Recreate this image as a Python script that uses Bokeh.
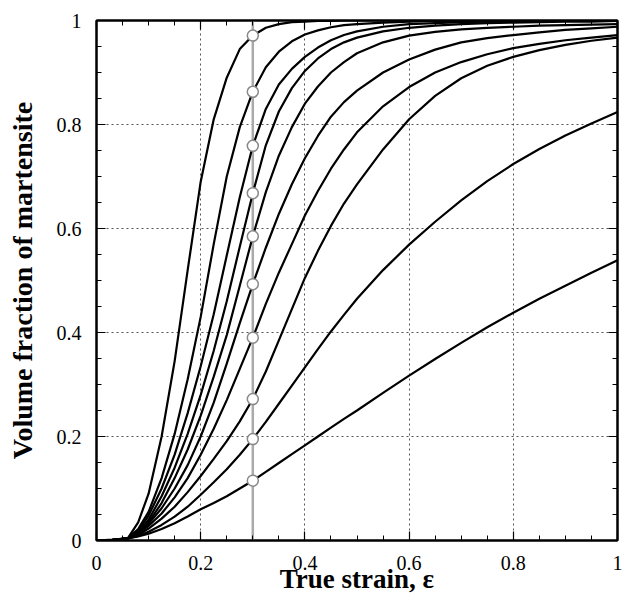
from bokeh.plotting import figure
from bokeh.models import LinearAxis, FixedTicker, Range1d, Span
from bokeh.embed import file_html
from bokeh.resources import INLINE

# strain values at which the curves were read
EPS = [0, 0.03, 0.06, 0.08, 0.1, 0.125, 0.15, 0.175, 0.2, 0.225, 0.25, 0.275, 0.3,
       0.325, 0.35, 0.375, 0.4, 0.425, 0.45, 0.475, 0.5, 0.55, 0.6, 0.65, 0.7,
       0.75, 0.8, 0.85, 0.9, 0.95, 1.0]

# volume fraction of martensite, one list per curve (steepest first)
C1 = [0, 0.001, 0.004, 0.035, 0.09, 0.2, 0.345, 0.52, 0.69, 0.81, 0.89, 0.945, 0.971,
      0.986, 0.993, 0.997, 0.998, 0.999, 0.999, 1.0, 1.0, 1.0, 1.0, 1.0, 1.0,
      1.0, 1.0, 1.0, 1.0, 1.0, 1.0]
C2 = [0, 0.001, 0.004, 0.022, 0.055, 0.12, 0.205, 0.31, 0.43, 0.57, 0.70, 0.795, 0.863,
      0.91, 0.94, 0.96, 0.973, 0.981, 0.987, 0.991, 0.993, 0.996, 0.998, 0.999, 0.999,
      1.0, 1.0, 1.0, 1.0, 1.0, 1.0]
C3 = [0, 0.001, 0.004, 0.018, 0.048, 0.1, 0.165, 0.245, 0.335, 0.435, 0.548, 0.66, 0.759,
      0.83, 0.877, 0.907, 0.93, 0.948, 0.962, 0.972, 0.979, 0.988, 0.993, 0.995, 0.997,
      0.998, 0.999, 0.999, 1.0, 1.0, 1.0]
C4 = [0, 0.001, 0.004, 0.016, 0.04, 0.085, 0.14, 0.205, 0.28, 0.365, 0.46, 0.565, 0.668,
      0.76, 0.825, 0.87, 0.903, 0.927, 0.945, 0.958, 0.967, 0.979, 0.986, 0.99, 0.993,
      0.995, 0.996, 0.997, 0.998, 0.998, 0.999]
C5 = [0, 0.001, 0.004, 0.015, 0.035, 0.072, 0.12, 0.175, 0.24, 0.315, 0.395, 0.49, 0.585,
      0.67, 0.74, 0.795, 0.84, 0.873, 0.9, 0.92, 0.937, 0.958, 0.971, 0.978, 0.983,
      0.986, 0.988, 0.99, 0.991, 0.992, 0.993]
C6 = [0, 0.001, 0.004, 0.014, 0.032, 0.062, 0.1, 0.145, 0.2, 0.265, 0.34, 0.418, 0.493,
      0.563, 0.628, 0.685, 0.735, 0.778, 0.815, 0.843, 0.865, 0.9, 0.925, 0.944, 0.958,
      0.966, 0.972, 0.977, 0.982, 0.985, 0.988]
C7 = [0, 0.001, 0.004, 0.013, 0.028, 0.052, 0.083, 0.12, 0.165, 0.215, 0.27, 0.33, 0.39,
      0.455, 0.515, 0.57, 0.625, 0.672, 0.715, 0.752, 0.785, 0.835, 0.872, 0.9, 0.92,
      0.935, 0.947, 0.955, 0.962, 0.967, 0.972]
C8 = [0, 0.001, 0.004, 0.011, 0.023, 0.042, 0.065, 0.093, 0.124, 0.157, 0.191, 0.229, 0.272,
      0.325, 0.385, 0.445, 0.505, 0.557, 0.605, 0.648, 0.685, 0.752, 0.81, 0.855, 0.889,
      0.913, 0.93, 0.943, 0.953, 0.961, 0.967]
C9 = [0, 0.0013, 0.004, 0.009, 0.017, 0.03, 0.046, 0.065, 0.088, 0.112, 0.137, 0.165, 0.195,
      0.228, 0.263, 0.298, 0.333, 0.368, 0.402, 0.434, 0.465, 0.52, 0.569, 0.613, 0.654,
      0.691, 0.724, 0.753, 0.779, 0.802, 0.824]
C10 = [0, 0.0015, 0.004, 0.008, 0.013, 0.022, 0.033, 0.046, 0.06, 0.072, 0.085, 0.1, 0.115,
       0.132, 0.149, 0.166, 0.183, 0.2, 0.217, 0.234, 0.25, 0.284, 0.317, 0.349, 0.38,
       0.41, 0.438, 0.465, 0.49, 0.515, 0.539]
CURVES = [C1, C2, C3, C4, C5, C6, C7, C8, C9, C10]

MARK_EPS = 0.3
MARK_VALUES = [c[EPS.index(MARK_EPS)] for c in CURVES]

TICKS = [0, 0.2, 0.4, 0.6, 0.8, 1]
TICK_LABELS = ["0", "0.2", "0.4", "0.6", "0.8", "1"]
GRID_TICKS = [0.2, 0.4, 0.6, 0.8]

SERIF = "Liberation Serif"

p = figure(frame_width=521, frame_height=520,
           x_range=Range1d(0, 1), y_range=Range1d(0, 1),
           output_backend="svg", toolbar_location=None,
           min_border_left=96, min_border_top=20, min_border_right=5,
           min_border_bottom=50)
p.background_fill_color = "white"
p.border_fill_color = "white"
p.outline_line_color = "black"
p.outline_line_width = 2


def style_axis(ax, show_labels):
    ax.ticker = FixedTicker(ticks=TICKS, minor_ticks=[i * 0.05 for i in range(21)])
    ax.major_tick_in = 9
    ax.major_tick_out = 0
    ax.minor_tick_in = 5
    ax.minor_tick_out = 0
    ax.major_tick_line_color = "black"
    ax.minor_tick_line_color = "black"
    ax.major_tick_line_width = 1.2
    ax.minor_tick_line_width = 1
    ax.axis_line_color = "black"
    ax.axis_line_width = 2
    if show_labels:
        ax.major_label_overrides = {t: l for t, l in zip(TICKS, TICK_LABELS)}
        ax.major_label_text_font = SERIF
        ax.major_label_text_font_size = "20px"
        ax.major_label_text_color = "black"
        ax.major_label_standoff = 13
        ax.axis_label_text_font = SERIF
        ax.axis_label_text_font_style = "bold"
        ax.axis_label_text_font_size = "27px"
        ax.axis_label_text_color = "black"
    else:
        ax.major_label_overrides = {t: "" for t in TICKS}
        ax.major_label_standoff = 0


style_axis(p.xaxis[0], True)
style_axis(p.yaxis[0], True)
p.xaxis[0].axis_label = "True strain, ε"
p.yaxis[0].axis_label = "Volume fraction of martensite"
p.xaxis[0].major_label_standoff = 15
p.xaxis[0].axis_label_standoff = -9
p.yaxis[0].major_label_standoff = 15
p.yaxis[0].axis_label_standoff = 16
p.yaxis[0].axis_label_text_font_size = "28px"

top = LinearAxis()
right = LinearAxis()
style_axis(top, False)
style_axis(right, False)
p.add_layout(top, "above")
p.add_layout(right, "right")

for g in (p.xgrid[0], p.ygrid[0]):
    g.ticker = FixedTicker(ticks=GRID_TICKS)
    g.grid_line_color = "#555555"
    g.grid_line_dash = "2 3"
    g.grid_line_width = 1

ref = Span(location=MARK_EPS, dimension="height", line_color="#aaaaaa",
           line_width=2.5, level="underlay")
p.add_layout(ref)

for c in CURVES:
    p.line(EPS, c, line_color="black", line_width=2.2)

p.scatter([MARK_EPS] * len(MARK_VALUES), MARK_VALUES, size=11,
          fill_color="white", line_color="#888888", line_width=1.5)

open("out.html", "w").write(file_html(p, INLINE))
